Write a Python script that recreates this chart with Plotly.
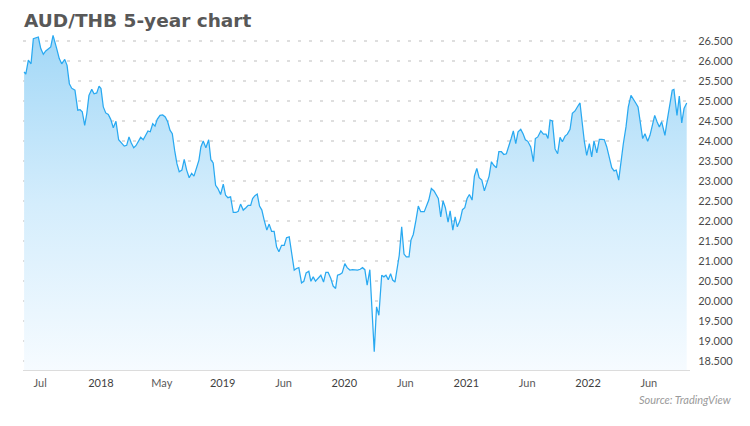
import pandas as pd
import plotly.graph_objects as go

# Time of each reading, as decimal years
times = [
    2017.368, 2017.382, 2017.403, 2017.425, 2017.444, 2017.458, 2017.485, 2017.505, 2017.526, 2017.546,
    2017.567, 2017.587, 2017.606, 2017.622, 2017.636, 2017.657, 2017.677, 2017.702, 2017.721, 2017.740,
    2017.759, 2017.786, 2017.809, 2017.828, 2017.846, 2017.866, 2017.883, 2017.901, 2017.924, 2017.943,
    2017.965, 2017.984, 2018.000, 2018.019, 2018.039, 2018.060, 2018.080, 2018.101, 2018.123, 2018.145,
    2018.170, 2018.191, 2018.211, 2018.230, 2018.249, 2018.269, 2018.287, 2018.306, 2018.326, 2018.347,
    2018.367, 2018.386, 2018.405, 2018.425, 2018.444, 2018.462, 2018.485, 2018.507, 2018.528, 2018.548,
    2018.567, 2018.586, 2018.605, 2018.624, 2018.643, 2018.665, 2018.684, 2018.704, 2018.725, 2018.745,
    2018.764, 2018.783, 2018.805, 2018.821, 2018.840, 2018.862, 2018.885, 2018.903, 2018.922, 2018.942,
    2018.961, 2018.983, 2019.005, 2019.024, 2019.043, 2019.065, 2019.087, 2019.109, 2019.128, 2019.147,
    2019.169, 2019.191, 2019.210, 2019.230, 2019.246, 2019.265, 2019.284, 2019.303, 2019.322, 2019.341,
    2019.363, 2019.382, 2019.402, 2019.423, 2019.443, 2019.462, 2019.484, 2019.506, 2019.525, 2019.547,
    2019.566, 2019.588, 2019.607, 2019.626, 2019.648, 2019.667, 2019.686, 2019.708, 2019.725, 2019.744,
    2019.763, 2019.785, 2019.807, 2019.829, 2019.848, 2019.867, 2019.889, 2019.908, 2019.928, 2019.944,
    2019.963, 2019.982, 2020.004, 2020.023, 2020.045, 2020.067, 2020.086, 2020.108, 2020.130, 2020.149,
    2020.168, 2020.187, 2020.209, 2020.228, 2020.245, 2020.264, 2020.283, 2020.306, 2020.324, 2020.341,
    2020.360, 2020.379, 2020.396, 2020.415, 2020.431, 2020.450, 2020.470, 2020.489, 2020.508, 2020.530,
    2020.546, 2020.565, 2020.587, 2020.606, 2020.626, 2020.655, 2020.692, 2020.713, 2020.735, 2020.752,
    2020.770, 2020.790, 2020.809, 2020.828, 2020.850, 2020.867, 2020.889, 2020.908, 2020.926, 2020.949,
    2020.968, 2020.987, 2021.006, 2021.025, 2021.047, 2021.066, 2021.086, 2021.105, 2021.127, 2021.148,
    2021.168, 2021.187, 2021.206, 2021.225, 2021.247, 2021.267, 2021.288, 2021.308, 2021.329, 2021.349,
    2021.368, 2021.386, 2021.406, 2021.425, 2021.447, 2021.466, 2021.485, 2021.505, 2021.529, 2021.551,
    2021.567, 2021.587, 2021.612, 2021.633, 2021.655, 2021.671, 2021.688, 2021.707, 2021.729, 2021.750,
    2021.770, 2021.789, 2021.811, 2021.830, 2021.852, 2021.871, 2021.893, 2021.912, 2021.934, 2021.953,
    2021.970, 2021.989, 2022.011, 2022.030, 2022.049, 2022.072, 2022.093, 2022.113, 2022.134, 2022.154,
    2022.172, 2022.195, 2022.214, 2022.232, 2022.252, 2022.271, 2022.290, 2022.312, 2022.331, 2022.353,
    2022.372, 2022.392, 2022.411, 2022.430, 2022.449, 2022.468, 2022.490, 2022.509, 2022.528, 2022.548,
    2022.567, 2022.586, 2022.605, 2022.632, 2022.651, 2022.673, 2022.692, 2022.706, 2022.731, 2022.750,
    2022.770, 2022.789, 2022.811,
]

# AUD/THB rate at each reading
rates = [
    25.73, 25.67, 26.02, 25.93, 26.56, 26.58, 26.60, 26.31, 26.17, 26.25,
    26.31, 26.35, 26.64, 26.43, 26.31, 26.06, 25.93, 26.04, 25.89, 25.43,
    25.32, 25.27, 24.77, 24.78, 24.73, 24.39, 24.68, 25.14, 25.29, 25.18,
    25.20, 25.37, 25.31, 24.85, 24.70, 24.66, 24.54, 24.33, 24.49, 24.03,
    23.93, 23.87, 23.89, 24.10, 23.95, 23.83, 23.88, 23.99, 24.09, 24.03,
    24.14, 24.25, 24.23, 24.43, 24.37, 24.54, 24.64, 24.65, 24.60, 24.48,
    24.27, 24.18, 23.77, 23.43, 23.23, 23.27, 23.54, 23.27, 23.08, 23.19,
    23.12, 23.31, 23.52, 23.85, 24.00, 23.83, 24.03, 23.53, 23.45, 22.89,
    22.81, 22.66, 22.92, 22.64, 22.58, 22.60, 22.21, 22.21, 22.24, 22.42,
    22.27, 22.33, 22.39, 22.39, 22.56, 22.63, 22.67, 22.37, 22.27, 22.02,
    21.77, 21.92, 21.74, 21.74, 21.35, 21.23, 21.39, 21.39, 21.58, 21.60,
    21.23, 20.77, 20.81, 20.83, 20.45, 20.49, 20.70, 20.74, 20.49, 20.60,
    20.49, 20.56, 20.64, 20.47, 20.71, 20.71, 20.56, 20.37, 20.31, 20.64,
    20.66, 20.70, 20.93, 20.83, 20.77, 20.78, 20.77, 20.77, 20.79, 20.83,
    20.78, 20.39, 20.78, 19.52, 18.73, 19.85, 19.64, 20.64, 20.60, 20.64,
    20.53, 20.68, 20.52, 20.47, 20.81, 21.14, 21.85, 21.17, 21.10, 21.10,
    21.52, 21.66, 22.02, 22.37, 22.23, 22.23, 22.52, 22.81, 22.75, 22.67,
    22.56, 22.10, 22.50, 22.33, 21.97, 22.25, 21.77, 22.10, 21.85, 22.02,
    22.28, 22.33, 22.56, 22.66, 22.52, 23.12, 23.31, 23.08, 23.02, 22.75,
    22.93, 23.12, 23.48, 23.39, 23.33, 23.73, 23.73, 23.66, 23.68, 23.85,
    24.06, 24.25, 23.93, 24.23, 24.29, 24.18, 24.03, 23.99, 23.85, 23.48,
    24.06, 24.10, 24.25, 24.17, 24.17, 24.06, 24.52, 24.50, 23.80, 23.68,
    24.09, 23.98, 24.12, 24.17, 24.29, 24.69, 24.75, 24.85, 24.95, 24.43,
    23.98, 23.64, 23.93, 23.60, 24.00, 23.70, 24.04, 24.04, 24.03, 23.85,
    23.64, 23.33, 23.25, 23.27, 23.02, 23.52, 23.93, 24.35, 24.85, 25.14,
    25.06, 24.95, 24.85, 24.43, 24.06, 24.18, 23.99, 24.14, 24.39, 24.64,
    24.48, 24.35, 24.48, 24.14, 24.52, 24.89, 25.27, 25.29, 24.64, 25.12,
    24.45, 24.81, 24.95,
]

# x-axis tick positions (decimal years) and their labels
x_tick_times = [2017.5, 2018.0, 2018.5, 2019.0, 2019.5, 2020.0, 2020.5, 2021.0, 2021.5, 2022.0, 2022.5]
x_tick_labels = ["Jul", "2018", "May", "2019", "Jun", "2020", "Jun", "2021", "Jun", "2022", "Jun"]

# y-axis ticks
y_tick_values = [18.5, 19.0, 19.5, 20.0, 20.5, 21.0, 21.5, 22.0, 22.5, 23.0, 23.5, 24.0, 24.5, 25.0, 25.5, 26.0, 26.5]

title_text = "AUD/THB 5-year chart"
source_text = "Source: TradingView"


def to_date(t):
    year = int(t)
    start = pd.Timestamp(year, 1, 1)
    end = pd.Timestamp(year + 1, 1, 1)
    return start + (t - year) * (end - start)


dates = [to_date(t) for t in times]
tick_dates = [to_date(t) for t in x_tick_times]
tick_text = [
    lab if lab.isdigit() else "<span style='color:#5a5a5a'>" + lab + "</span>"
    for lab in x_tick_labels
]

W, H = 750, 426
ML, MR, MT, MB = 23, 60, 31, 56
y_min, y_max = 18.27, 26.75
x_range = [to_date(2017.359), to_date(2022.838)]

fig = go.Figure()
fig.add_trace(go.Scatter(
    x=dates,
    y=rates,
    mode="lines",
    line=dict(color="#29a9f1", width=1.25),
    fill="tozeroy",
    fillgradient=dict(
        type="vertical",
        start=y_min,
        stop=26.6,
        colorscale=[[0, "rgb(246,251,255)"], [0.5, "rgb(212,237,252)"], [1, "rgb(163,216,247)"]],
    ),
    hoverinfo="skip",
    showlegend=False,
))

tick_font = dict(family="Lato", size=11, color="#3f3f3f")

plot_w = W - ML - MR
plot_h = H - MT - MB


def px_to_paper_x(px):
    return (px - ML) / plot_w


def px_to_paper_y(py):
    return (H - MB - py) / plot_h


fig.update_layout(
    width=W,
    height=H,
    margin=dict(l=ML, r=MR, t=MT, b=MB, autoexpand=False),
    paper_bgcolor="white",
    plot_bgcolor="white",
    xaxis=dict(
        type="date",
        range=x_range,
        tickvals=tick_dates,
        ticktext=tick_text,
        showgrid=False,
        zeroline=False,
        showline=True,
        linecolor="#dcdcdc",
        linewidth=1,
        ticks="outside",
        ticklen=3,
        tickcolor="rgba(0,0,0,0)",
        tickfont=tick_font,
    ),
    yaxis=dict(
        side="right",
        range=[y_min, y_max],
        tickvals=y_tick_values,
        tickformat=".3f",
        showgrid=True,
        gridcolor="#dedede",
        gridwidth=1.5,
        griddash="3px,8px",
        zeroline=False,
        showline=False,
        ticks="outside",
        ticklen=5,
        tickcolor="rgba(0,0,0,0)",
        tickfont=dict(family="Lato", size=11, color="#4a4a4a"),
    ),
    annotations=[
        dict(
            text="<b>" + title_text + "</b>",
            x=px_to_paper_x(22), y=px_to_paper_y(20),
            xref="paper", yref="paper",
            xanchor="left", yanchor="middle",
            showarrow=False,
            font=dict(family="DejaVu Sans", size=18.5, color="#585858"),
        ),
        dict(
            text="<i>" + source_text + "</i>",
            x=px_to_paper_x(734), y=px_to_paper_y(400),
            xref="paper", yref="paper",
            xanchor="right", yanchor="middle",
            showarrow=False,
            font=dict(family="Lato", size=11, color="#9a9a9a"),
        ),
    ],
)

fig.write_html(
    "out.html",
    config={"displayModeBar": False},
    post_script="document.body.style.margin='0';",
)
